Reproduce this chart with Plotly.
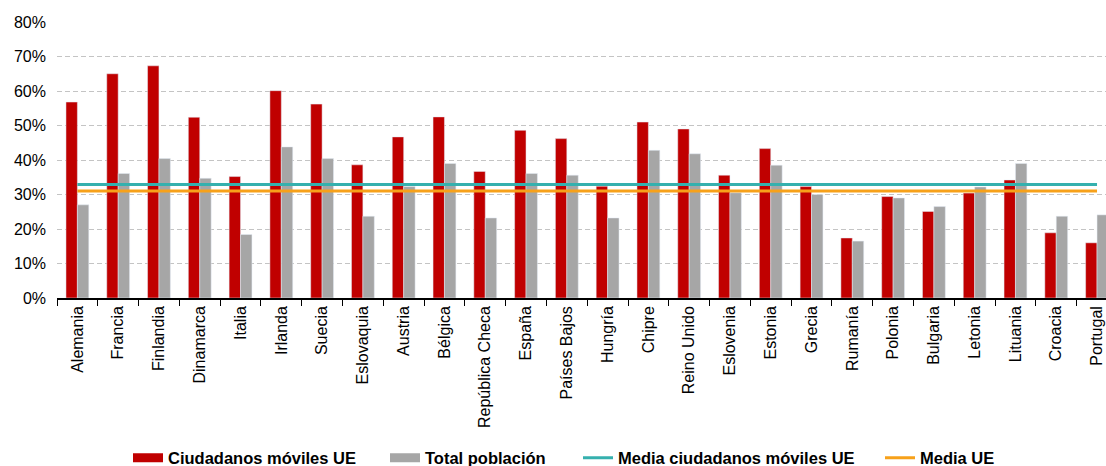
import plotly.graph_objects as go

# Países de la UE, ordenados como en el gráfico
paises = ["Alemania", "Francia", "Finlandia", "Dinamarca", "Italia", "Irlanda", "Suecia",
          "Eslovaquia", "Austria", "Bélgica", "República Checa", "España", "Países Bajos",
          "Hungría", "Chipre", "Reino Unido", "Eslovenia", "Estonia", "Grecia", "Rumanía",
          "Polonia", "Bulgaria", "Letonia", "Lituania", "Croacia", "Portugal"]

ciudadanos_moviles = [0.568, 0.650, 0.673, 0.524, 0.352, 0.601, 0.562, 0.386, 0.467, 0.525,
                      0.367, 0.486, 0.462, 0.324, 0.510, 0.490, 0.356, 0.433, 0.323, 0.174,
                      0.294, 0.251, 0.304, 0.342, 0.189, 0.160]

total_poblacion = [0.270, 0.361, 0.404, 0.347, 0.184, 0.438, 0.404, 0.237, 0.323, 0.390,
                   0.232, 0.361, 0.356, 0.232, 0.428, 0.418, 0.305, 0.385, 0.300, 0.165,
                   0.290, 0.265, 0.322, 0.390, 0.237, 0.241]

media_ciudadanos_moviles = 0.329
media_ue = 0.310

ROJO = "#C00000"
GRIS = "#A6A6A6"
TURQUESA = "#35B0AE"
NARANJA = "#F7A11A"

W, H = 1106, 466

fig = go.Figure()

fig.add_trace(go.Bar(x=paises, y=ciudadanos_moviles, marker_color=ROJO,
                     name="Ciudadanos móviles UE", showlegend=False))
fig.add_trace(go.Bar(x=paises, y=total_poblacion, marker_color=GRIS,
                     name="Total población", showlegend=False))

fig.add_trace(go.Scatter(x=paises, y=[media_ciudadanos_moviles] * len(paises), mode="lines",
                         line=dict(color=TURQUESA, width=3),
                         name="Media ciudadanos móviles UE", showlegend=False))
fig.add_trace(go.Scatter(x=paises, y=[media_ue] * len(paises), mode="lines",
                         line=dict(color=NARANJA, width=3),
                         name="Media UE", showlegend=False))

# Entradas de leyenda, cada una en su propia leyenda para fijar su posición
entradas = [
    ("Ciudadanos móviles UE", ROJO, 9, "legend", 128),
    ("Total población", GRIS, 9, "legend2", 385),
    ("Media ciudadanos móviles UE", TURQUESA, 3, "legend3", 578),
    ("Media UE", NARANJA, 3, "legend4", 880),
]
legend_font = dict(family="Liberation Sans, Arial, sans-serif", size=16.5, color="#000000",
                   weight="bold")
layout_legends = {}
for nombre, color, grosor, ley, xpx in entradas:
    fig.add_trace(go.Scatter(x=[None], y=[None], mode="lines",
                             line=dict(color=color, width=grosor),
                             name=nombre, legend=ley, showlegend=True))
    layout_legends[ley] = dict(x=xpx / W, xref="container", xanchor="left",
                               y=1 - 458 / H, yref="container", yanchor="middle",
                               orientation="h", font=legend_font,
                               bgcolor="rgba(0,0,0,0)", borderwidth=0,
                               itemwidth=30, tracegroupgap=0)

fig.update_layout(
    width=W, height=H,
    margin=dict(l=57, r=0, t=22, b=168),
    paper_bgcolor="white", plot_bgcolor="white",
    barmode="group", bargap=0.44, bargroupgap=0,
    font=dict(family="Liberation Sans, Arial, sans-serif", color="#000000"),
    **layout_legends,
)

fig.update_xaxes(
    range=[-0.5, 25.22],
    showline=True, linecolor="#000000", linewidth=1.5,
    ticks="outside", tickson="boundaries", ticklen=6, tickcolor="#000000", tickwidth=1,
    tickangle=-90, tickfont=dict(size=16, color="#000000"),
    showgrid=False, zeroline=False,
)

fig.update_yaxes(
    range=[0, 0.8], dtick=0.1, tickformat=".0%",
    showgrid=True, gridcolor="#C4C4C4", gridwidth=1, griddash="5px,3px",
    zeroline=False, showline=False, ticks="",
    tickfont=dict(size=16, color="#000000"), ticklabelstandoff=10,
)

fig.write_html("out.html")
